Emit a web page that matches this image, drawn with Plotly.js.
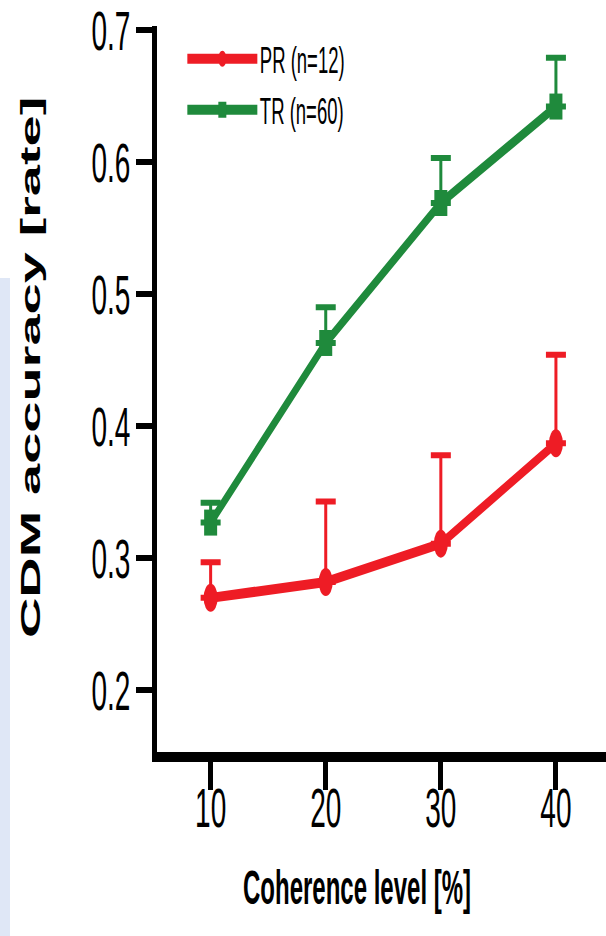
<!DOCTYPE html>
<html>
<head>
<meta charset="utf-8">
<script src="https://cdn.plot.ly/plotly-3.0.1.min.js"></script>
<style>
html, body { margin: 0; padding: 0; overflow: hidden; background: #ffffff; width: 606px; height: 936px; }
#chart { width: 1212px; height: 936px; transform: scaleX(0.5); transform-origin: 0 0; }
</style>
</head>
<body>
<div id="chart"></div>
<script>
// Data
const coherence = [10, 20, 30, 40];
const xTickLabels = ['10', '20', '30', '40'];
const yTickValues = [0.2, 0.3, 0.4, 0.5, 0.6, 0.7];
const yTickLabels = ['0.2', '0.3', '0.4', '0.5', '0.6', '0.7'];

const prName = 'PR (n=12)';
const prMean = [0.270, 0.282, 0.311, 0.387];
const prErr  = [0.027, 0.061, 0.067, 0.067];

const trName = 'TR (n=60)';
const trMean = [0.327, 0.463, 0.569, 0.642];
const trErr  = [0.015, 0.027, 0.034, 0.037];

const RED = '#ee1c25';
const GREEN = '#1f8a3c';
const FONT = 'Liberation Sans, Arial, sans-serif';

const traces = [
  {
    x: coherence, y: prMean, name: prName, type: 'scatter', mode: 'lines+markers',
    line: {color: RED, width: 10},
    marker: {color: RED, symbol: 'circle', size: 28},
    error_y: {type: 'data', array: prErr, arrayminus: prErr.map(() => 0), symmetric: false,
              color: RED, thickness: 6, width: 20}
  },
  {
    x: coherence, y: trMean, name: trName, type: 'scatter', mode: 'lines+markers',
    line: {color: GREEN, width: 10},
    marker: {color: GREEN, symbol: 'square', size: 26},
    error_y: {type: 'data', array: trErr, arrayminus: trErr.map(() => 0), symmetric: false,
              color: GREEN, thickness: 6, width: 20}
  }
];

const layout = {
  width: 1212, height: 936,
  margin: {l: 314, r: 0, t: 26, b: 184, pad: 0},
  paper_bgcolor: '#ffffff', plot_bgcolor: '#ffffff',
  font: {family: FONT, color: '#000000'},
  showlegend: true,
  legend: {
    x: 0.062, xanchor: 'left', y: 0.997, yanchor: 'top',
    font: {family: FONT, size: 37, color: '#000000'},
    itemwidth: 140, bgcolor: 'rgba(0,0,0,0)', borderwidth: 0, tracegroupgap: 0
  },
  xaxis: {
    range: [5.34, 44.35], showgrid: false, zeroline: false,
    showline: true, linecolor: '#000000', linewidth: 10,
    ticks: 'outside', ticklen: 28, tickwidth: 10, tickcolor: '#000000',
    tickvals: coherence, ticktext: xTickLabels, ticklabelstandoff: -30,
    tickfont: {family: FONT, size: 56, color: '#000000'},
    fixedrange: true
  },
  yaxis: {
    range: [0.1533, 0.703], showgrid: false, zeroline: false,
    showline: true, linecolor: '#000000', linewidth: 10,
    ticks: 'outside', ticklen: 32, tickwidth: 6, tickcolor: '#000000',
    tickvals: yTickValues, ticktext: yTickLabels, ticklabeloverflow: 'allow',
    tickfont: {family: FONT, size: 56, color: '#000000'},
    fixedrange: true
  },
  annotations: [
    {text: '<b>Coherence level [%]</b>', xref: 'paper', yref: 'paper',
     x: 0.445, y: -0.186, xanchor: 'center', yanchor: 'middle', showarrow: false,
     font: {family: FONT, size: 48, color: '#000000'}},
    {text: '<b>CDM accuracy [rate]</b>', xref: 'paper', yref: 'paper',
     x: -0.283, y: 0.530, xanchor: 'center', yanchor: 'middle', showarrow: false, textangle: -90,
     font: {family: FONT, size: 56, color: '#000000'}}
  ],
  shapes: [
    {type: 'rect', xref: 'paper', yref: 'paper', x0: -0.3497, x1: -0.3274, y0: -0.254, y1: 0.6528,
     fillcolor: '#dfe7f6', line: {width: 0}, layer: 'below'}
  ]
};

Plotly.newPlot('chart', traces, layout, {displayModeBar: false, staticPlot: true});
</script>
</body>
</html>
